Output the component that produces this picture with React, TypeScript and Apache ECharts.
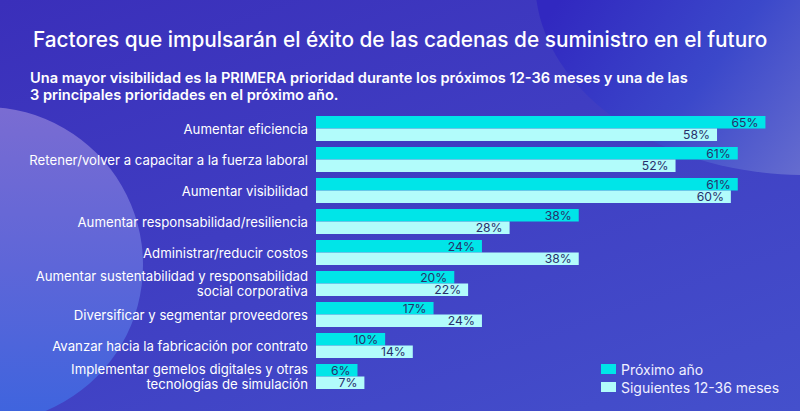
import React, { useEffect, useRef } from "react";
import * as echarts from "echarts";

const categories = [
  "Aumentar eficiencia",
  "Retener/volver a capacitar a la fuerza laboral",
  "Aumentar visibilidad",
  "Aumentar responsabilidad/resiliencia",
  "Administrar/reducir costos",
  "Aumentar sustentabilidad y responsabilidad\nsocial corporativa",
  "Diversificar y segmentar proveedores",
  "Avanzar hacia la fabricación por contrato",
  "Implementar gemelos digitales y otras\ntecnologías de simulación",
];
const proximoAno = [65, 61, 61, 38, 24, 20, 17, 10, 6];
const siguientes = [58, 52, 60, 28, 38, 22, 24, 14, 7];
const seriesNames = ["Próximo año", "Siguientes 12-36 meses"];
const titleText = "Factores que impulsarán el éxito de las cadenas de suministro en el futuro";
const subtitleText =
  "Una mayor visibilidad es la PRIMERA prioridad durante los próximos 12-36 meses y una de las\n3 principales prioridades en el próximo año.";

const FONT = "Inter, 'Noto Sans', sans-serif";

export default function App() {
  const ref = useRef<HTMLDivElement>(null);
  useEffect(() => {
    document.body.style.margin = "0";
    if (!ref.current) return;
    const chart = echarts.init(ref.current, undefined, { renderer: "svg" });
    const valueLabel = {
      show: true,
      position: "insideRight",
      distance: 7,
      formatter: "{c}%",
      color: "#28306c",
      fontSize: 12.2,
      lineHeight: 10,
      fontFamily: FONT,
    };
    chart.setOption({
      animation: false,
      graphic: [
        {
          type: "ellipse",
          z: 0,
          silent: true,
          shape: { cx: 805, cy: -20, rx: 270, ry: 195 },
          style: {
            fill: {
              type: "linear",
              x: 560,
              y: 0,
              x2: 800,
              y2: 175,
              global: true,
              colorStops: [
                { offset: 0, color: "#3128c0" },
                { offset: 0.55, color: "#3b48ca" },
                { offset: 1, color: "#656ccf" },
              ],
            },
          },
        },
        {
          type: "circle",
          z: 0,
          silent: true,
          shape: { cx: -15, cy: 265, r: 158 },
          style: {
            fill: {
              type: "linear",
              x: 0,
              y: 0,
              x2: 0,
              y2: 1,
              colorStops: [
                { offset: 0, color: "#7a6cd2" },
                { offset: 0.5, color: "#5e66d8" },
                { offset: 1, color: "#3d64de" },
              ],
            },
          },
        },
      ],
      title: [
        {
          text: titleText,
          left: 28,
          top: 24,
          textStyle: { color: "#ffffff", fontSize: 20.8, fontWeight: 500, fontFamily: FONT },
        },
        {
          text: subtitleText,
          left: 25,
          top: 64,
          textStyle: {
            color: "#ffffff",
            fontSize: 14.6,
            fontWeight: 600,
            lineHeight: 17,
            fontFamily: FONT,
          },
        },
      ],
      legend: {
        orient: "vertical",
        left: 601,
        top: 362,
        padding: 0,
        itemWidth: 15,
        itemHeight: 10,
        itemGap: 4,
        icon: "rect",
        data: seriesNames,
        textStyle: { color: "#f0f0ff", fontSize: 14, lineHeight: 14, fontFamily: FONT },
      },
      grid: { left: 316, top: 113, width: 495, height: 279, containLabel: false },
      xAxis: {
        type: "value",
        min: 0,
        max: 70,
        show: false,
      },
      yAxis: {
        type: "category",
        data: categories,
        inverse: true,
        axisLine: { show: false },
        axisTick: { show: false },
        splitLine: { show: false },
        axisLabel: {
          color: "#ffffff",
          fontSize: 13.2,
          lineHeight: 15.5,
          margin: 8,
          align: "right",
          fontFamily: FONT,
        },
      },
      series: [
        {
          name: seriesNames[0],
          type: "bar",
          data: proximoAno,
          barWidth: 12.5,
          barGap: "0%",
          itemStyle: { color: "#00e5e8" },
          label: valueLabel,
        },
        {
          name: seriesNames[1],
          type: "bar",
          data: siguientes,
          barWidth: 12.5,
          barGap: "0%",
          itemStyle: { color: "#b2fcfb" },
          label: valueLabel,
        },
      ],
    });
    return () => chart.dispose();
  }, []);
  return (
    <div
      ref={ref}
      style={{
        width: 800,
        height: 411,
        background: "linear-gradient(160deg, #3a2fba 0%, #3f3dc2 45%, #4450cc 100%)",
      }}
    />
  );
}
